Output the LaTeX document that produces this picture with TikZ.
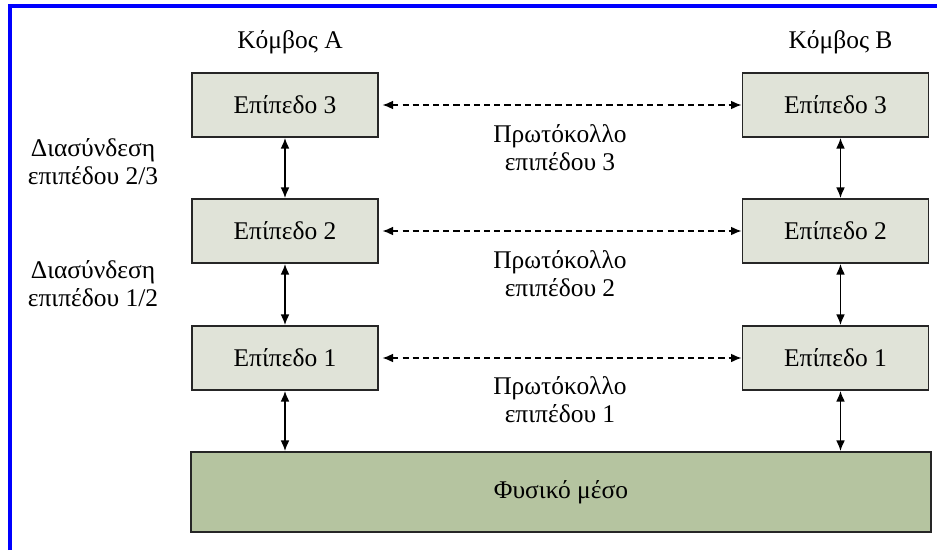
\documentclass[tikz,border=0pt]{standalone}
\usepackage{fontspec}
\setmainfont{Liberation Serif}
\usetikzlibrary{arrows.meta}
\definecolor{layerfill}{RGB}{224,227,216}
\definecolor{mediumfill}{RGB}{181,196,160}
\definecolor{frameblue}{RGB}{0,0,255}
\tikzset{
  layer box/.style={
    rectangle, draw=black!85, line width=1.1pt, fill=layerfill, inner sep=0pt,
    minimum width=3.72cm, minimum height=1.28cm,
    font=\fontsize{14.5}{16}\selectfont
  },
  medium box/.style={
    rectangle, draw=black!85, line width=1.1pt, fill=mediumfill, inner sep=0pt,
    minimum width=14.8cm, minimum height=1.6cm,
    font=\fontsize{14.5}{16}\selectfont
  },
  side label/.style={
    align=center, inner sep=0pt, font=\fontsize{14.5}{16}\selectfont
  },
  iface arrow/.style={
    draw=black, line width=0.8pt, {Latex[length=6pt,width=5pt]}-{Latex[length=6pt,width=5pt]}
  },
  proto arrow/.style={
    draw=black, line width=0.8pt, dash pattern=on 3.5pt off 2.3pt,
    {Latex[length=6pt,width=5pt]}-{Latex[length=6pt,width=5pt]}
  }
}

\begin{document}
\begin{tikzpicture}
  \useasboundingbox (0,0) rectangle (18.74,-11);
  \draw[frameblue, line width=0.08cm] (0.2,-11) |- (18.74,-0.12);

% ------------------------------------------------
% Κόμβος Α: στήλη με τα τρία επίπεδα
% ------------------------------------------------
\begin{scope}[shift={(5.7,0)}]
  \node[side label] (kA) at (0.1,-0.84) {Κόμβος Α};
  \node[layer box]  (a3) at (0,-2.10) {Επίπεδο 3};
  \node[layer box]  (a2) at (0,-4.62) {Επίπεδο 2};
  \node[layer box]  (a1) at (0,-7.16) {Επίπεδο 1};
\end{scope}

% ------------------------------------------------
% Κόμβος Β: στήλη με τα τρία επίπεδα
% ------------------------------------------------
\begin{scope}[shift={(16.71,0)}]
  \node[side label] (kB) at (0.1,-0.84) {Κόμβος Β};
  \node[layer box]  (b3) at (0,-2.10) {Επίπεδο 3};
  \node[layer box]  (b2) at (0,-4.62) {Επίπεδο 2};
  \node[layer box]  (b1) at (0,-7.16) {Επίπεδο 1};
\end{scope}

% ------------------------------------------------
% φυσικό μέσο
% ------------------------------------------------
  \node[medium box] (phy) at (11.22,-9.84) {Φυσικό μέσο};

% ------------------------------------------------
% διασυνδέσεις και πρωτόκολλα
% ------------------------------------------------
  \node[side label] (if23) at (1.86,-3.24) {Διασύνδεση\\επιπέδου 2/3};
  \node[side label] (if12) at (1.86,-5.68) {Διασύνδεση\\επιπέδου 1/2};
  \node[side label] (pr3) at (11.2,-2.96) {Πρωτόκολλο\\επιπέδου 3};
  \node[side label] (pr2) at (11.2,-5.48) {Πρωτόκολλο\\επιπέδου 2};
  \node[side label] (pr1) at (11.2,-8.00) {Πρωτόκολλο\\επιπέδου 1};

  \draw[iface arrow] (a3.south) -- (a2.north);
  \draw[iface arrow] (a2.south) -- (a1.north);
  \draw[iface arrow] (a1.south) -- (a1.south |- phy.north);
  \draw[iface arrow] (kB |- b3.south) -- (kB |- b2.north);
  \draw[iface arrow] (kB |- b2.south) -- (kB |- b1.north);
  \draw[iface arrow] (kB |- b1.south) -- (kB |- phy.north);

  \draw[proto arrow, shorten <=2pt] (a3.east) -- (b3.west);
  \draw[proto arrow, shorten <=2pt] (a2.east) -- (b2.west);
  \draw[proto arrow, shorten <=2pt] (a1.east) -- (b1.west);
\end{tikzpicture}
\end{document}
